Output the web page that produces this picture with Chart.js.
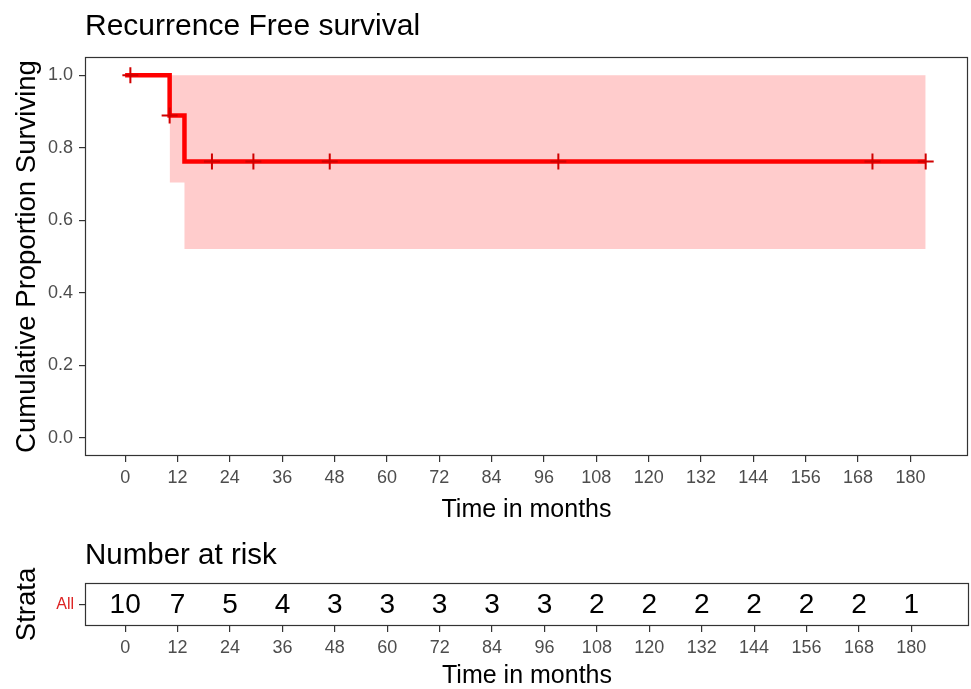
<!DOCTYPE html>
<html>
<head>
<meta charset="utf-8">
<script src="https://cdn.jsdelivr.net/npm/chart.js@4.4.0/dist/chart.umd.min.js"></script>
<style>
html,body{margin:0;padding:0;background:#ffffff;}
#wrap{position:relative;width:971px;height:689px;overflow:hidden;}
canvas{position:absolute;left:0;}
</style>
</head>
<body>
<div id="wrap">
<canvas id="main" width="971" height="530" style="top:0px"></canvas>
<canvas id="risk" width="971" height="159" style="top:530px"></canvas>
</div>
<script>
// ---- data ----
const survTimes   = [0, 10.2, 13.6, 183.5];
const survValues  = [1.0, 0.889, 0.762, 0.762];
const ciTimes     = [10.2, 13.6, 183.5];
const ciLower     = [0.704, 0.521, 0.521];
const ciUpper     = [1.0, 1.0, 1.0];
const censorTimes = [1.2, 10.2, 19.9, 29.4, 46.9, 99.3, 171.3, 183.5];
const censorValues= [1.0, 0.889, 0.762, 0.762, 0.762, 0.762, 0.762, 0.762];
const xTicks      = [0, 12, 24, 36, 48, 60, 72, 84, 96, 108, 120, 132, 144, 156, 168, 180];
const yTicks      = [0, 0.2, 0.4, 0.6, 0.8, 1.0];
const riskTimes   = [0, 12, 24, 36, 48, 60, 72, 84, 96, 108, 120, 132, 144, 156, 168, 180];
const riskCounts  = [10, 7, 5, 4, 3, 3, 3, 3, 3, 2, 2, 2, 2, 2, 2, 1];
const strata      = ['All'];

const FONT = "'Liberation Sans', Arial, Helvetica, sans-serif";
const X_MIN = -9.2, X_MAX = 193.2;

const panelBox = {
  id: 'panelBox',
  afterDatasetsDraw(chart) {
    const a = chart.chartArea, c = chart.ctx;
    c.save();
    c.strokeStyle = '#333333';
    c.lineWidth = 1.2;
    c.strokeRect(a.left + 0.5, a.top + 0.5, a.right - a.left - 1, a.bottom - a.top - 1);
    c.restore();
  }
};

const riskText = {
  id: 'riskText',
  afterDatasetsDraw(chart) {
    const meta = chart.getDatasetMeta(0);
    const ds = chart.data.datasets[0];
    const c = chart.ctx;
    c.save();
    c.font = '28px ' + FONT;
    c.fillStyle = '#000000';
    c.textAlign = 'center';
    c.textBaseline = 'middle';
    meta.data.forEach((el, i) => c.fillText(String(ds.data[i].n), el.x, el.y + 1));
    c.restore();
  }
};

function xScale(titleFont, titlePad, titleLH, height) {
  return {
    type: 'linear', min: X_MIN, max: X_MAX,
    afterBuildTicks(s) { s.ticks = xTicks.map(v => ({value: v})); },
    afterFit(s) { s.height = height; s.paddingLeft = 0; s.paddingRight = 0; },
    grid: {display: true, drawOnChartArea: false, drawTicks: true, tickLength: 6, color: '#333333', lineWidth: 1.2},
    border: {display: false},
    ticks: {color: '#4d4d4d', font: {family: FONT, size: 18}, padding: 5, maxRotation: 0, autoSkip: false},
    title: {display: true, text: 'Time in months', color: '#000000', font: {family: FONT, size: titleFont, lineHeight: titleLH}, padding: {top: 0, bottom: titlePad}}
  };
}

const pts = (xs, ys) => xs.map((x, i) => ({x: x, y: ys[i]}));

new Chart(document.getElementById('main'), {
  type: 'line',
  data: {
    datasets: [
      {label: 'censor', order: 0, data: pts(censorTimes, censorValues), showLine: false, pointStyle: 'cross', pointRadius: 8, pointBorderWidth: 2, pointBorderColor: '#D00000', pointBackgroundColor: '#D00000'},
      {label: 'All', order: 1, data: pts(survTimes, survValues), stepped: 'before', borderColor: '#FF0000', borderWidth: 4.5, pointRadius: 0, fill: false, borderJoinStyle: 'miter'},
      {label: 'upper', order: 3, data: pts(ciTimes, ciUpper), stepped: 'before', borderWidth: 0, pointRadius: 0, fill: false, borderColor: 'rgba(0,0,0,0)'},
      {label: 'lower', order: 2, data: pts(ciTimes, ciLower), stepped: 'before', borderWidth: 0, pointRadius: 0, fill: '-1', backgroundColor: '#FFCCCC', borderColor: 'rgba(0,0,0,0)'}
    ]
  },
  options: {
    responsive: false, animation: false,
    layout: {autoPadding: false, padding: {left: 0, right: 3, top: 0, bottom: 0}},
    plugins: {
      filler: {drawTime: 'beforeDatasetsDraw'},
      legend: {display: false}, tooltip: {enabled: false},
      title: {display: true, text: 'Recurrence Free survival', align: 'start', fullSize: false, color: '#000000',
              font: {family: FONT, size: 30, weight: 'normal', lineHeight: 1.2}, padding: {top: 9, bottom: 12}}
    },
    scales: {
      x: xScale(25, 5, 1.2, 74),
      y: {
        type: 'linear', min: -0.05, max: 1.05,
        afterBuildTicks(s) { s.ticks = yTicks.map(v => ({value: v})); },
        afterFit(s) { s.width = 85; s.paddingTop = 0; s.paddingBottom = 0; },
        grid: {display: true, drawOnChartArea: false, drawTicks: true, tickLength: 6, color: '#333333', lineWidth: 1.2},
        border: {display: false},
        ticks: {color: '#4d4d4d', font: {family: FONT, size: 18}, padding: 6, callback: v => v.toFixed(1)},
        title: {display: true, text: 'Cumulative Proportion Surviving', color: '#000000', font: {family: FONT, size: 27.5}, padding: {top: 11, bottom: 0}}
      }
    }
  },
  plugins: [panelBox]
});

new Chart(document.getElementById('risk'), {
  type: 'scatter',
  data: {
    datasets: [
      {label: 'risk', data: riskTimes.map((t, i) => ({x: t, y: strata[0], n: riskCounts[i]})), pointRadius: 0, showLine: false}
    ]
  },
  options: {
    responsive: false, animation: false,
    layout: {autoPadding: false, padding: {left: 0, right: 2, top: 0, bottom: 0}},
    plugins: {
      legend: {display: false}, tooltip: {enabled: false},
      title: {display: true, text: 'Number at risk', align: 'start', fullSize: false, color: '#000000',
              font: {family: FONT, size: 29.5, weight: 'normal', lineHeight: 1.2}, padding: {top: 8, bottom: 9.6}}
    },
    scales: {
      x: xScale(25, 0, 1.0, 63),
      y: {
        type: 'category', labels: strata, offset: true,
        afterFit(s) { s.width = 85; s.paddingTop = 0; s.paddingBottom = 0; },
        grid: {display: true, offset: false, drawOnChartArea: false, drawTicks: true, tickLength: 6, color: '#333333', lineWidth: 1.2},
        border: {display: false},
        ticks: {color: '#DD2222', font: {family: FONT, size: 16}, padding: 5},
        title: {display: true, text: 'Strata', color: '#000000', font: {family: FONT, size: 27.5}, padding: {top: 11, bottom: 0}}
      }
    }
  },
  plugins: [panelBox, riskText]
});
</script>
</body>
</html>
